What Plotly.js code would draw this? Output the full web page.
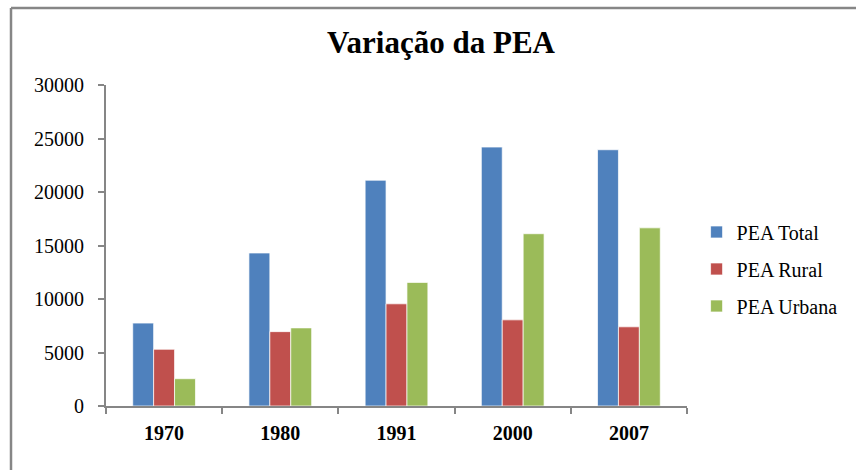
<!DOCTYPE html>
<html>
<head>
<meta charset="utf-8">
<script src="https://cdn.plot.ly/plotly-3.0.1.min.js"></script>
<style>html,body{margin:0;padding:0;background:#fff;}#chart{width:856px;height:470px;}</style>
</head>
<body>
<div id="chart"></div>
<script>
var categories = ["1970", "1980", "1991", "2000", "2007"];
var peaTotal = [7750, 14300, 21100, 24200, 23950];
var peaRural = [5300, 6950, 9550, 8050, 7400];
var peaUrbana = [2550, 7300, 11550, 16100, 16650];
var seriesNames = ["PEA Total", "PEA Rural", "PEA Urbana"];
var yTicks = [0, 5000, 10000, 15000, 20000, 25000, 30000];

var colors = ["#4F81BD", "#C0504D", "#9BBB59"];
var allValues = [peaTotal, peaRural, peaUrbana];
var serif = "Liberation Serif, Times New Roman, serif";

var data = allValues.map(function (vals, i) {
  return {
    type: "bar",
    name: seriesNames[i],
    x: categories,
    y: vals,
    legendgroup: "g" + i,
    marker: {color: colors[i], line: {color: "rgba(255,255,255,0.7)", width: 1}},
    hoverinfo: "x+y+name"
  };
});

var axisGray = "#868686";
var layout = {
  width: 856,
  height: 470,
  margin: {l: 106, r: 169, t: 85, b: 64},
  paper_bgcolor: "#ffffff",
  plot_bgcolor: "#ffffff",
  font: {family: serif, color: "#000000", size: 19},
  title: {
    text: "<b>Variação da PEA</b>",
    font: {family: serif, size: 31, color: "#000000"},
    x: 441 / 856, xanchor: "center", xref: "container",
    y: 1 - 42 / 470, yanchor: "middle", yref: "container"
  },
  barmode: "group",
  bargap: 0.46,
  bargroupgap: 0,
  showlegend: true,
  legend: {
    x: 1.0165, xanchor: "left",
    y: 0.4268, yanchor: "middle",
    font: {family: serif, size: 20, color: "#000000"},
    tracegroupgap: 8,
    traceorder: "grouped",
    bgcolor: "rgba(0,0,0,0)"
  },
  xaxis: {
    type: "category",
    showline: true, linecolor: axisGray, linewidth: 2,
    ticks: "outside", tickson: "boundaries", ticklen: 6, tickwidth: 2, tickcolor: axisGray,
    showgrid: false, zeroline: false,
    tickfont: {family: serif, size: 20, color: "#000000", weight: "bold"},
    ticklabelstandoff: 8
  },
  yaxis: {
    range: [0, 30000],
    tickvals: yTicks,
    ticktext: yTicks.map(String),
    showline: true, linecolor: axisGray, linewidth: 2,
    ticks: "outside", ticklen: 6, tickwidth: 2, tickcolor: axisGray,
    showgrid: false, zeroline: false,
    tickfont: {family: serif, size: 20, color: "#000000"},
    ticklabelstandoff: 10
  },
  shapes: [
    {type: "line", xref: "paper", yref: "paper",
     x0: (11 - 106) / 581, x1: 2, y0: (406 - 8) / 321, y1: (406 - 8) / 321,
     line: {color: axisGray, width: 2.5}},
    {type: "line", xref: "paper", yref: "paper",
     x0: (11 - 106) / 581, x1: (11 - 106) / 581, y0: (406 - 8) / 321, y1: -1,
     line: {color: axisGray, width: 2.5}}
  ]
};

Plotly.newPlot("chart", data, layout, {displayModeBar: false, staticPlot: true});
</script>
</body>
</html>
